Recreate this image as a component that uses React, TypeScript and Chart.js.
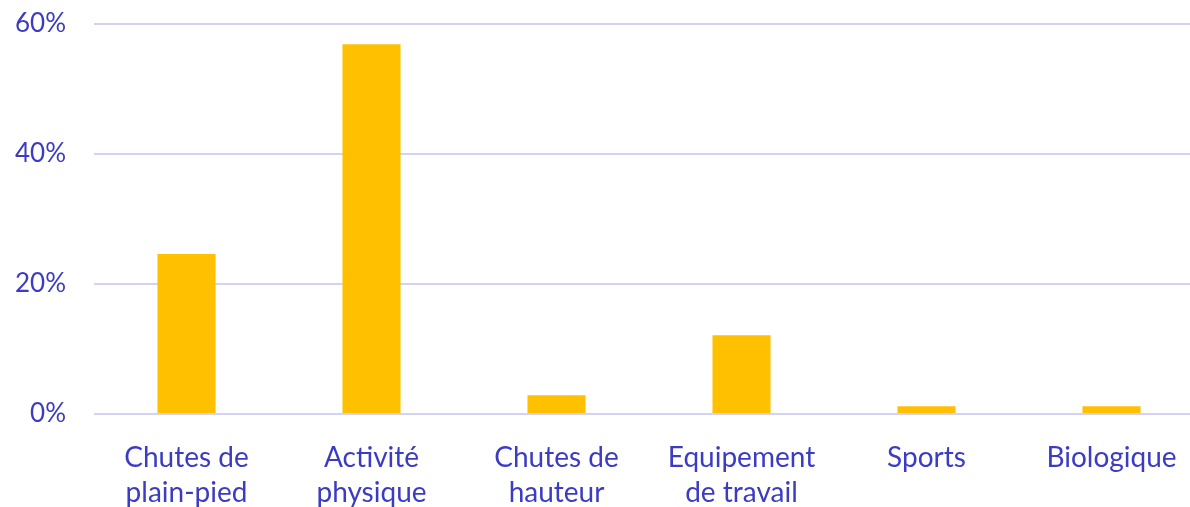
import React, { useEffect, useRef } from "react";
import { Chart, registerables } from "chart.js";

Chart.register(...registerables);

const categories: string[][] = [
  ["Chutes de", "plain-pied"],
  ["Activité", "physique"],
  ["Chutes de", "hauteur"],
  ["Equipement", "de travail"],
  ["Sports"],
  ["Biologique"],
];
const values: number[] = [24.6, 56.9, 2.9, 12.1, 1.2, 1.2];
const yTicks: number[] = [0, 20, 40, 60];

const TEXT = "#3B3BC4";
const GRID = "#D2D2F4";
const BAR = "#FFC000";
const FONT = "Lato, 'Open Sans', sans-serif";

export default function App() {
  const ref = useRef<HTMLCanvasElement | null>(null);
  useEffect(() => {
    document.body.style.margin = "0";
    document.body.style.overflow = "hidden";
    const chart = new Chart(ref.current!, {
      type: "bar",
      data: {
        labels: categories,
        datasets: [
          {
            data: values,
            backgroundColor: BAR,
            borderWidth: 0,
            barPercentage: 0.314,
            categoryPercentage: 1,
          },
        ],
      },
      options: {
        responsive: false,
        animation: false,
        layout: { padding: { top: 24, bottom: 0, left: 0, right: 0 } },
        plugins: { legend: { display: false }, tooltip: { enabled: false } },
        scales: {
          x: {
            grid: { display: false },
            border: { display: false },
            ticks: {
              color: TEXT,
              font: { family: FONT, size: 28, lineHeight: 1.25 },
              padding: 18,
              maxRotation: 0,
              autoSkip: false,
            },
            afterFit: (s: any) => {
              s.height = 93;
              s.paddingLeft = 0;
              s.paddingRight = 0;
            },
          },
          y: {
            min: 0,
            max: 60,
            afterBuildTicks: (s: any) => {
              s.ticks = yTicks.map((v) => ({ value: v }));
            },
            grid: { color: GRID, lineWidth: 2, drawTicks: false },
            border: { display: false },
            ticks: {
              color: TEXT,
              font: { family: FONT, size: 26 },
              padding: 28,
              callback: (v: any) => v + "%",
            },
            afterFit: (s: any) => {
              s.width = 94;
              s.paddingTop = 0;
              s.paddingBottom = 0;
            },
          },
        },
      },
    });
    return () => chart.destroy();
  }, []);
  return (
    <div style={{ position: "absolute", left: 0, top: 0, width: 1204, height: 507 }}>
      <canvas ref={ref} width={1204} height={507} style={{ width: 1204, height: 507 }} />
    </div>
  );
}
